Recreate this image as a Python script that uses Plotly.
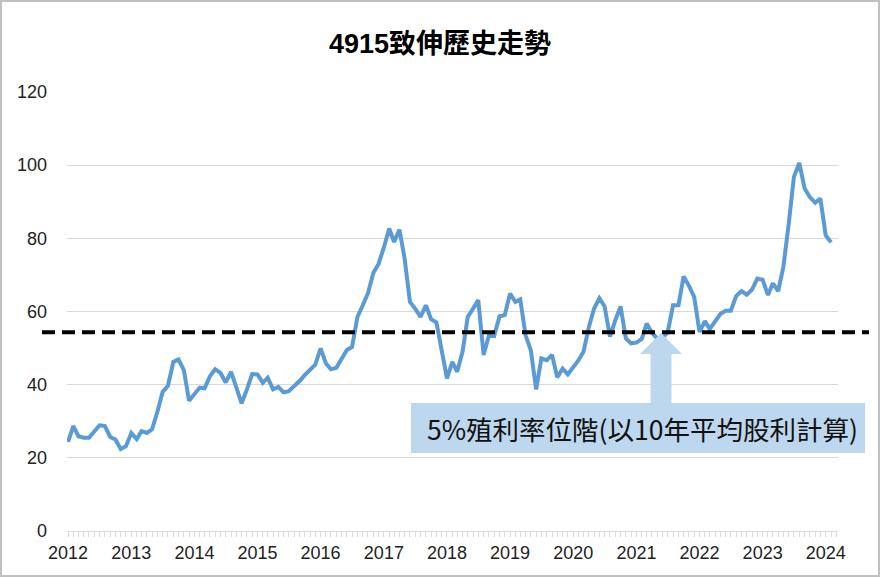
import plotly.graph_objects as go
import pandas as pd

title_text = "4915致伸歷史走勢"
start_month = "2012-01-01"

# monthly closing price, 2012-01 .. 2024-02
price = [
    24.4, 28.7, 25.9, 25.5, 25.5, 27.4, 28.9, 28.7, 25.7, 25.0, 22.4, 23.2,   # 2012
    26.8, 25.1, 27.3, 26.8, 27.8, 32.6, 38.0, 39.7, 46.2, 46.9, 44.0, 35.6,   # 2013
    37.4, 39.2, 39.0, 42.3, 44.2, 43.2, 40.6, 43.5, 39.2, 34.9, 38.7, 42.9,   # 2014
    42.8, 40.5, 41.9, 38.7, 39.4, 37.9, 38.2, 39.5, 41.0, 42.6, 44.1, 45.5,   # 2015
    49.9, 45.8, 44.2, 44.6, 47.0, 49.5, 50.3, 58.5, 61.7, 65.0, 70.5, 73.0,   # 2016
    77.5, 82.7, 79.0, 82.4, 74.5, 62.6, 60.8, 58.5, 61.7, 57.9, 57.0, 49.5,   # 2017
    41.7, 46.2, 43.5, 49.0, 58.5, 60.8, 63.1, 48.1, 53.5, 53.3, 58.7, 59.0,   # 2018
    64.9, 62.6, 63.3, 53.5, 49.4, 38.7, 47.2, 46.7, 48.1, 42.0, 44.4, 42.8,   # 2019
    44.7, 46.7, 49.0, 55.8, 60.8, 63.6, 61.4, 53.1, 57.6, 61.4, 52.6, 51.3,   # 2020
    51.5, 52.5, 56.7, 54.2, 52.6, 52.8, 54.4, 61.7, 61.7, 69.6, 67.0, 64.0,   # 2021
    54.4, 57.4, 55.2, 57.2, 59.3, 60.2, 60.2, 64.2, 65.6, 64.6, 66.0, 69.0,   # 2022
    68.7, 64.5, 67.7, 65.6, 72.2, 84.0, 96.8, 100.6, 93.6, 91.3, 89.7, 90.9,  # 2023
    80.8, 78.9,                                                               # 2024
]

yield_level = 54.3          # 5% 殖利率位階
yield_label = "5%殖利率位階(以10年平均股利計算)"
y_ticks = [0, 20, 40, 60, 80, 100, 120]

months = pd.date_range(start_month, periods=len(price), freq="MS")

W, H = 880, 577
L, R, T, B = 67, 42, 92, 46
PW, PH = W - L - R, H - T - B


def px_x(p):  # pixel -> paper x
    return (p - L) / PW


def px_y(p):  # pixel -> paper y
    return (H - B - p) / PH


fig = go.Figure()
fig.add_trace(go.Scatter(
    x=months, y=price, mode="lines",
    line=dict(color="#5b9bd5", width=4),
    hoverinfo="x+y", showlegend=False,
))

blue = "#bdd7ee"
shapes = [
    # outer border
    dict(type="rect", xref="paper", yref="paper",
         x0=px_x(1), x1=px_x(W - 1), y0=px_y(H - 1), y1=px_y(1),
         line=dict(color="#c0c0c0", width=2), fillcolor="rgba(0,0,0,0)", layer="below"),
    # annotation box
    dict(type="rect", xref="paper", yref="paper",
         x0=px_x(411), x1=px_x(865), y0=px_y(453), y1=px_y(403),
         line=dict(width=0), fillcolor=blue, layer="above"),
    # block arrow
    dict(type="path", xref="paper", yref="paper",
         path=(f"M {px_x(650.5)},{px_y(403)} L {px_x(650.5)},{px_y(354)} "
               f"L {px_x(640)},{px_y(354)} L {px_x(661)},{px_y(333)} "
               f"L {px_x(682)},{px_y(354)} L {px_x(671.5)},{px_y(354)} "
               f"L {px_x(671.5)},{px_y(403)} Z"),
         line=dict(width=0), fillcolor=blue, layer="above"),
    # dashed 5% yield level
    dict(type="line", xref="paper", yref="y",
         x0=px_x(42), x1=px_x(869), y0=yield_level, y1=yield_level,
         line=dict(color="black", width=4, dash="13px,7px"), layer="above"),
]

fig.update_layout(
    width=W, height=H,
    margin=dict(l=L, r=R, t=T, b=B),
    paper_bgcolor="white", plot_bgcolor="white",
    font=dict(family="Liberation Sans, Arial, Noto Sans CJK TC", color="#222"),
    title=dict(text=f"<b>{title_text}</b>", x=0.5, xanchor="center",
               y=1 - 44 / H, yanchor="middle",
               font=dict(size=27, family="Liberation Sans, Noto Sans CJK TC", color="black")),
    shapes=shapes,
    annotations=[dict(
        xref="paper", yref="paper", x=px_x(642), y=px_y(428),
        xanchor="center", yanchor="middle", showarrow=False,
        text=yield_label,
        font=dict(size=26.5, family="Noto Sans CJK TC", color="#111"),
    )],
    xaxis=dict(
        type="date",
        range=[pd.Timestamp(start_month) - pd.Timedelta(days=6),
               months[-1] + pd.Timedelta(days=40)],
        tick0=start_month, dtick="M12", tickformat="%Y",
        ticks="outside", ticklen=5, tickcolor="#d9d9d9",
        minor=dict(dtick="M1", ticks="outside", ticklen=5, tickcolor="#d9d9d9"),
        showgrid=False, showline=True, linecolor="#d9d9d9", linewidth=1,
        tickfont=dict(size=18, color="#222"),
        fixedrange=True,
    ),
    yaxis=dict(
        range=[0, 120], tickvals=y_ticks,
        showgrid=True, gridcolor="#d9d9d9", gridwidth=1,
        zeroline=False, showline=False, ticks="",
        ticklabelstandoff=19,
        tickfont=dict(size=18, color="#222"),
        fixedrange=True,
    ),
)

fig.write_html("out.html")
